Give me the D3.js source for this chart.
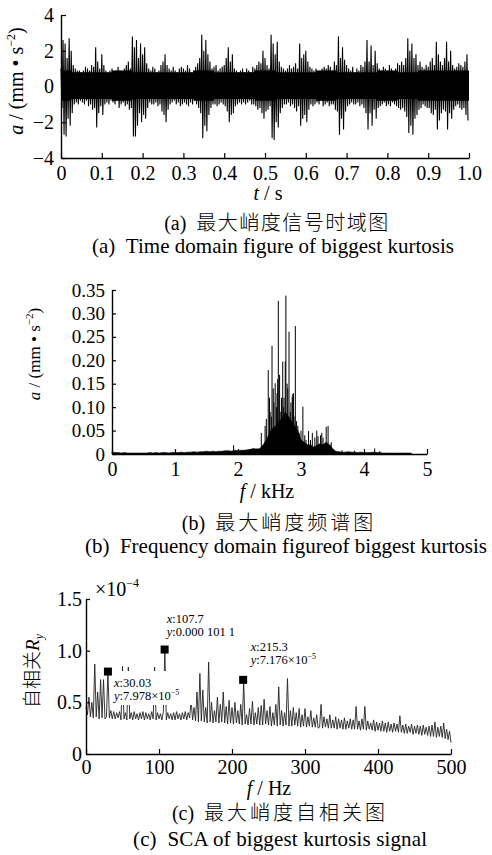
<!DOCTYPE html>
<html><head><meta charset="utf-8">
<script src="https://cdn.jsdelivr.net/npm/d3@7"></script>
<style>
html,body{margin:0;padding:0;background:#fff;}
svg{display:block;}
text{font-family:"Liberation Serif","Times New Roman","Noto Sans CJK SC",serif;fill:#000;}
.han{font-family:"Noto Sans CJK SC",sans-serif;font-weight:300;}
</style></head>
<body>
<svg id="c" width="492" height="855"></svg>
<script>
// ---------- DATA ----------
// (a) time signal: per-bin positive and negative extremes, bin = 0.005 s
const timeStep = 0.005;
const timeUpper = [
1.0,2.6,2.4,1.6,2.7,2.0,1.2,1.0,0.9,0.9,
0.8,0.9,1.1,1.0,0.9,1.2,1.1,2.2,1.4,1.0,
1.8,1.2,0.9,0.8,0.9,1.0,0.8,0.9,1.1,0.9,
0.8,1.0,1.2,1.4,1.0,2.8,2.2,2.6,1.6,2.4,
1.8,2.2,1.3,1.0,0.9,1.1,1.0,0.8,0.9,1.2,
1.4,1.8,1.2,1.0,0.9,1.1,0.9,0.8,1.0,1.1,
1.0,0.9,1.2,1.0,0.8,0.9,1.1,1.3,1.6,2.9,
2.0,2.6,1.8,1.4,1.0,1.1,1.2,0.9,1.0,1.1,
1.2,1.6,2.2,1.4,1.8,1.0,0.9,0.8,0.9,1.0,
0.8,1.0,0.9,0.8,1.1,1.0,1.2,1.4,1.3,2.0,
1.6,1.2,1.0,2.9,2.4,1.8,2.5,1.4,1.1,1.0,
0.9,1.0,1.2,1.0,1.1,1.3,1.0,2.4,1.6,1.8,
2.0,1.4,1.1,1.0,0.9,1.0,0.8,0.9,1.0,1.1,
1.0,1.2,1.1,0.9,1.4,1.2,2.8,1.6,2.2,1.5,
1.2,1.0,0.9,1.1,0.8,1.0,0.9,1.2,1.1,1.4,
2.6,1.4,2.3,1.2,2.0,1.3,1.0,0.9,1.1,1.0,
0.9,1.2,1.0,0.8,1.0,1.3,1.2,1.4,1.2,1.6,
2.7,2.0,2.4,1.6,1.8,1.2,1.4,1.1,1.0,1.2,
1.1,1.4,1.6,1.2,2.5,1.8,1.4,1.2,1.6,2.5,
1.4,2.0,1.2,1.0,1.1,1.3,1.2,1.1,1.4,1.8];
const timeLower = [
-1.2,-2.7,-2.8,-1.8,-2.2,-1.5,-1.0,-0.9,-1.0,-0.8,
-0.9,-1.0,-0.8,-1.1,-1.0,-1.3,-1.2,-2.3,-1.5,-1.1,
-1.6,-1.0,-0.9,-1.0,-0.8,-0.9,-1.0,-0.8,-1.2,-1.0,
-0.9,-1.1,-1.0,-1.3,-1.2,-2.8,-2.8,-2.2,-1.5,-2.0,
-1.6,-1.8,-1.2,-0.9,-1.0,-1.0,-0.9,-1.1,-1.0,-1.4,
-1.6,-2.0,-1.3,-1.0,-0.9,-0.8,-1.0,-0.9,-1.1,-1.0,
-0.9,-1.0,-1.1,-0.9,-1.0,-0.8,-1.0,-1.2,-1.5,-2.9,
-2.2,-2.5,-1.6,-1.2,-1.0,-1.0,-1.1,-1.0,-0.9,-1.0,
-1.1,-1.4,-2.0,-1.6,-1.5,-1.1,-1.0,-0.9,-1.0,-0.9,
-1.0,-0.9,-0.8,-1.0,-1.0,-1.1,-1.3,-1.2,-1.5,-1.8,
-1.4,-1.3,-1.1,-2.9,-3.0,-2.0,-2.3,-1.5,-1.2,-1.0,
-1.0,-0.9,-1.1,-1.0,-1.2,-1.4,-1.1,-2.2,-1.8,-1.6,
-2.0,-1.3,-1.0,-1.1,-1.0,-0.9,-1.0,-0.8,-1.1,-1.0,
-0.9,-1.1,-1.0,-1.0,-1.3,-1.4,-2.7,-1.8,-2.4,-1.4,
-1.1,-1.0,-0.9,-1.0,-1.0,-0.9,-1.1,-1.0,-1.2,-1.5,
-2.4,-1.5,-2.2,-1.3,-1.8,-1.2,-1.1,-1.0,-0.9,-1.1,
-1.0,-1.1,-0.9,-1.0,-1.1,-1.2,-1.3,-1.2,-1.4,-1.7,
-2.6,-2.2,-2.7,-1.8,-1.6,-1.3,-1.2,-1.0,-1.1,-1.2,
-1.2,-1.5,-1.6,-1.3,-2.4,-1.9,-1.5,-1.3,-1.4,-2.4,
-1.5,-1.8,-1.3,-1.1,-1.0,-1.2,-1.3,-1.2,-1.6,-1.9];
// dense core band of the signal (per 0.05 s)
const coreStep = 0.05;
const coreUpper = [0.9,0.8,0.8,0.9,0.8,0.8,0.8,0.9,0.8,0.8,0.9,0.8,0.8,0.9,0.8,0.8,0.9,0.8,0.9,0.9,0.9];
const coreLower = [-0.8,-0.7,-0.7,-0.8,-0.7,-0.7,-0.7,-0.8,-0.7,-0.7,-0.8,-0.7,-0.7,-0.8,-0.7,-0.7,-0.8,-0.7,-0.8,-0.8,-0.8];
const timeTicksX = [0,0.1,0.2,0.3,0.4,0.5,0.6,0.7,0.8,0.9,1.0];
const timeTicksY = [-4,-2,0,2,4];

// (b) spectrum: background envelope (step 0.05 kHz) + individual spectral lines
const specStep = 0.05;
const specEnvelope = [
.004,.003,.003,.002,.003,.002,.002,.002,.002,.002,
.002,.002,.003,.002,.003,.002,.003,.003,.002,.003,
.003,.003,.004,.003,.004,.004,.005,.004,.005,.005,
.006,.005,.006,.005,.006,.006,.007,.007,.006,.008,
.007,.008,.008,.009,.010,.012,.010,.012,.020,.030,
.045,.055,.060,.070,.075,.090,.080,.070,.060,.050,
.030,.025,.020,.020,.015,.018,.022,.020,.025,.020,
.012,.006,.005,.004,.004,.005,.004,.004,.003,.004,
.003,.003,.003,.004,.003,.003,.002,.002,.002,.002,
.002,.002,.002,.002,.002,.002];
const specPeakF = [1.93,2.10,2.20,2.30,2.37,2.43,2.45,2.48,2.50,2.51,2.53,2.54,2.56,2.57,2.59,2.61,2.62,2.63,2.64,2.66,2.68,2.69,2.71,2.72,2.73,2.75,2.76,2.78,2.79,2.81,2.83,2.84,2.86,2.87,2.88,2.89,2.91,2.93,2.95,2.97,3.00,3.03,3.06,3.08,3.12,3.15,3.18,3.22,3.25,3.27,3.31,3.33,3.35,3.40,3.43,3.46,3.48,3.65,3.85,4.17,4.25];
const specPeakA = [0.019,0.008,0.010,0.012,0.045,0.060,0.075,0.179,0.120,0.090,0.080,0.231,0.140,0.110,0.151,0.100,0.130,0.160,0.327,0.169,0.090,0.120,0.197,0.100,0.120,0.198,0.338,0.150,0.140,0.261,0.090,0.110,0.122,0.128,0.130,0.080,0.273,0.070,0.060,0.045,0.050,0.101,0.040,0.030,0.049,0.030,0.045,0.035,0.050,0.038,0.040,0.045,0.035,0.058,0.060,0.020,0.025,0.008,0.007,0.012,0.006];
const specTicksX = [0,1,2,3,4,5];
const specTicksY = [0,0.05,0.10,0.15,0.20,0.25,0.30,0.35];

// (c) autocorrelation (x1e-4), step 2 Hz
const acfStep = 2;
const acfValues = [
0.45,0.38,0.55,0.36,0.50,0.35,0.87,0.36,0.60,0.34,
0.72,0.35,0.72,0.34,0.36,0.80,0.35,0.42,0.34,0.41,
0.34,0.40,0.35,0.41,0.33,0.85,0.34,0.40,0.33,0.84,
0.34,0.40,0.33,0.41,0.34,0.39,0.33,0.40,0.34,0.41,
0.33,0.40,0.34,0.39,0.33,0.41,0.34,0.84,0.33,0.40,
0.34,0.39,0.33,0.41,1.011,0.33,0.40,0.34,0.39,0.33,
0.40,0.33,0.41,0.34,0.39,0.33,0.40,0.34,0.41,0.33,
0.40,0.35,0.52,0.33,0.45,0.32,0.60,0.31,0.78,0.32,
0.62,0.31,0.45,0.30,0.89,0.31,0.50,0.30,0.42,0.31,
0.55,0.30,0.48,0.31,0.60,0.30,0.46,0.29,0.52,0.30,
0.45,0.29,0.50,0.30,0.42,0.29,0.48,0.28,0.70,0.29,
0.38,0.28,0.44,0.29,0.51,0.28,0.40,0.29,0.45,0.28,
0.47,0.28,0.53,0.29,0.42,0.28,0.46,0.27,0.40,0.28,
0.48,0.27,0.65,0.28,0.42,0.27,0.40,0.28,0.73,0.27,
0.42,0.27,0.45,0.28,0.40,0.27,0.44,0.26,0.38,0.27,
0.44,0.26,0.36,0.27,0.42,0.26,0.35,0.26,0.38,0.25,
0.26,0.48,0.25,0.36,0.26,0.34,0.25,0.38,0.25,0.33,
0.25,0.36,0.24,0.34,0.25,0.33,0.24,0.35,0.24,0.32,
0.25,0.34,0.24,0.33,0.24,0.46,0.24,0.32,0.23,0.34,
0.24,0.46,0.23,0.32,0.24,0.30,0.23,0.33,0.22,0.31,
0.23,0.30,0.22,0.32,0.22,0.30,0.21,0.31,0.22,0.29,
0.21,0.30,0.22,0.29,0.21,0.37,0.21,0.28,0.20,0.29,
0.20,0.27,0.21,0.29,0.19,0.27,0.20,0.28,0.19,0.27,
0.18,0.28,0.19,0.26,0.18,0.27,0.17,0.28,0.17,0.31,
0.16,0.26,0.17,0.27,0.16,0.30,0.15,0.24,0.14,0.22,
0.11];
const acfTicksX = [0,100,200,300,400,500];
const acfTicksY = [0,0.5,1.0,1.5];
const markX = [30.03,107.7,215.3];
const markY = [0.7978,1.011,0.7176];

// ---------- DRAW ----------
const svg = d3.select("#c");
const AX = 1.4;
const TF = 20;
const NB = "\u00a0";

function styleAxis(g, fs){
  g.select(".domain").attr("stroke","#000").attr("stroke-width",AX);
  g.selectAll(".tick line").attr("stroke","#000").attr("stroke-width",1.2);
  g.selectAll(".tick text").attr("font-size",fs).attr("font-family","Liberation Serif, serif").attr("fill","#000");
}
function caption(x, y, tag, han, ls){
  const t = svg.append("text").attr("x",x).attr("y",y).attr("text-anchor","middle").attr("font-size",20);
  t.append("tspan").text(tag+NB+NB);
  t.append("tspan").attr("class","han").attr("letter-spacing",ls).text(han);
}
function engCaption(x, y, width, txt){
  svg.append("text").attr("x",x).attr("y",y).attr("text-anchor","start").attr("font-size",21)
    .attr("textLength",width).attr("lengthAdjust","spacing").text(txt);
}

// ===== (a) =====
{
  const x = d3.scaleLinear().domain([0,1]).range([61,469]);
  const y = d3.scaleLinear().domain([-4,4]).range([158,15]);
  const core = d3.area().x((d,i)=>x(i*coreStep)).y0((d,i)=>y(coreLower[i])).y1(d=>y(d)).curve(d3.curveStep);
  svg.append("path").attr("d", core(coreUpper)).attr("fill","#000");
  const pts = [];
  timeUpper.forEach((u,i)=>{
    const t = i*timeStep;
    pts.push([x(t), y(u)]);
    pts.push([x(t+timeStep/2), y(timeLower[i])]);
  });
  svg.append("path").attr("d", d3.line()(pts)).attr("fill","none").attr("stroke","#000").attr("stroke-width",1.1);
  const gx = svg.append("g").attr("transform","translate(0,158)")
    .call(d3.axisBottom(x).tickValues(timeTicksX).tickSize(-5).tickSizeOuter(0).tickPadding(8)
      .tickFormat(d=> d===0?"0":d3.format(".1f")(d)));
  styleAxis(gx,TF);
  const gy = svg.append("g").attr("transform","translate(61,0)")
    .call(d3.axisLeft(y).tickValues(timeTicksY).tickSize(-5).tickSizeOuter(0).tickPadding(7)
      .tickFormat(d=> d<0 ? "\u2212"+Math.abs(d) : String(d)));
  styleAxis(gy,TF);
  const lab = svg.append("text").attr("transform","translate(23,81) rotate(-90)").attr("text-anchor","middle").attr("font-size",20);
  lab.append("tspan").attr("font-style","italic").text("a");
  lab.append("tspan").text(NB+"/"+NB+"(mm"+NB+"\u2022"+NB+"s");
  lab.append("tspan").attr("font-size",12).attr("dy",-8).text("\u22122");
  lab.append("tspan").attr("dy",8).text(")");
  const xl = svg.append("text").attr("x",268).attr("y",200).attr("text-anchor","middle").attr("font-size",20);
  xl.append("tspan").attr("font-style","italic").text("t");
  xl.append("tspan").text(NB+"/"+NB+"s");
  caption(277, 230, "(a)", "最大峭度信号时域图", 1.5);
  engCaption(92, 253, 362, "(a)"+NB+NB+"Time domain figure of biggest kurtosis");
}

// ===== (b) =====
{
  const x = d3.scaleLinear().domain([0,5]).range([112,427]);
  const y = d3.scaleLinear().domain([0,0.35]).range([454,290]);
  const area = d3.area().x((d,i)=>x(i*specStep)).y0(y(0)).y1(d=>y(d));
  svg.append("path").attr("d", area(specEnvelope)).attr("fill","#000").attr("stroke","#000").attr("stroke-width",0.6);
  svg.append("g").selectAll("line").data(specPeakF).join("line")
    .attr("x1",d=>x(d)).attr("x2",d=>x(d))
    .attr("y1",y(0)).attr("y2",(d,i)=>y(specPeakA[i]))
    .attr("stroke","#000").attr("stroke-width",1);
  const gx = svg.append("g").attr("transform","translate(0,454)")
    .call(d3.axisBottom(x).tickValues(specTicksX).tickSize(-5).tickSizeOuter(0).tickPadding(8).tickFormat(d3.format("d")));
  styleAxis(gx,TF);
  const gy = svg.append("g").attr("transform","translate(112,0)")
    .call(d3.axisLeft(y).tickValues(specTicksY).tickSize(-4).tickSizeOuter(0).tickPadding(7)
      .tickFormat(d=> d===0?"0":d3.format(".2f")(d)));
  styleAxis(gy,19);
  const lab = svg.append("text").attr("transform","translate(40,354) rotate(-90)").attr("text-anchor","middle").attr("font-size",17);
  lab.append("tspan").attr("font-style","italic").text("a");
  lab.append("tspan").text(NB+"/"+NB+"(mm"+NB+"\u2022"+NB+"s");
  lab.append("tspan").attr("font-size",11).attr("dy",-7).text("\u22122");
  lab.append("tspan").attr("dy",7).text(")");
  const xl = svg.append("text").attr("x",267).attr("y",498).attr("text-anchor","middle").attr("font-size",20);
  xl.append("tspan").attr("font-style","italic").text("f");
  xl.append("tspan").text(NB+"/"+NB+"kHz");
  caption(279, 530, "(b)", "最大峭度频谱图", 3);
  engCaption(85, 553, 402, "(b)"+NB+NB+"Frequency domain figureof biggest kurtosis");
}

// ===== (c) =====
{
  const x = d3.scaleLinear().domain([0,500]).range([86,451]);
  const y = d3.scaleLinear().domain([0,1.5]).range([754,599]);
  svg.append("path").attr("d", d3.line().x((d,i)=>x(i*acfStep)).y(d=>y(d))(acfValues))
    .attr("fill","none").attr("stroke","#222").attr("stroke-width",0.9);
  const ann = [
    {tx:114, l1:687, l2:700, box:[112,671,84,34], x:"30.03", y:["7.978\u00d710","\u22125"]},
    {tx:166.7, l1:623, l2:636, box:[164,612,80,28], x:"107.7", y:["0.000"+NB+"101"+NB+"1",null]},
    {tx:250.7, l1:651, l2:664, box:[248,640,80,28], x:"215.3", y:["7.176\u00d710","\u22125"]}
  ];
  ann.forEach(a=>{
    svg.append("rect").attr("x",a.box[0]).attr("y",a.box[1]).attr("width",a.box[2]).attr("height",a.box[3]).attr("fill","#fff");
  });
  svg.append("g").selectAll("rect").data(markX).join("rect")
    .attr("x",d=>x(d)-4).attr("y",(d,i)=>y(markY[i])-4).attr("width",8).attr("height",8).attr("fill","#000");
  ann.forEach(a=>{
    const t1 = svg.append("text").attr("x",a.tx).attr("y",a.l1).attr("font-size",12.5);
    t1.append("tspan").attr("font-style","italic").text("x");
    t1.append("tspan").text(":"+a.x);
    const t2 = svg.append("text").attr("x",a.tx).attr("y",a.l2).attr("font-size",12.5);
    t2.append("tspan").attr("font-style","italic").text("y");
    t2.append("tspan").text(":"+a.y[0]);
    if(a.y[1]){ t2.append("tspan").attr("font-size",8).attr("dy",-5).text(a.y[1]); }
  });
  const gx = svg.append("g").attr("transform","translate(0,754)")
    .call(d3.axisBottom(x).tickValues(acfTicksX).tickSize(-5).tickSizeOuter(0).tickPadding(6).tickFormat(d3.format("d")));
  styleAxis(gx,TF);
  const gy = svg.append("g").attr("transform","translate(86,0)")
    .call(d3.axisLeft(y).tickValues(acfTicksY).tickSize(-4).tickSizeOuter(0).tickPadding(4)
      .tickFormat(d=> d===0?"0":d3.format(".1f")(d)));
  styleAxis(gy,TF);
  const ex = svg.append("text").attr("x",95).attr("y",596).attr("font-size",20);
  ex.append("tspan").text("\u00d710");
  ex.append("tspan").attr("font-size",12).attr("dy",-9).text("\u22124");
  const lab = svg.append("text").attr("transform","translate(39,671) rotate(-90)").attr("text-anchor","middle").attr("font-size",19);
  lab.append("tspan").attr("class","han").text("自相关");
  lab.append("tspan").attr("font-style","italic").text("R");
  lab.append("tspan").attr("font-style","italic").attr("font-size",12).attr("dy",4).text("y");
  const xl = svg.append("text").attr("x",269).attr("y",795).attr("text-anchor","middle").attr("font-size",20);
  xl.append("tspan").attr("font-style","italic").text("f");
  xl.append("tspan").text(NB+"/"+NB+"Hz");
  caption(280, 820, "(c)", "最大峭度自相关图", 3);
  engCaption(133, 846, 294, "(c)"+NB+NB+"SCA of biggest kurtosis signal");
}
</script>
</body></html>
